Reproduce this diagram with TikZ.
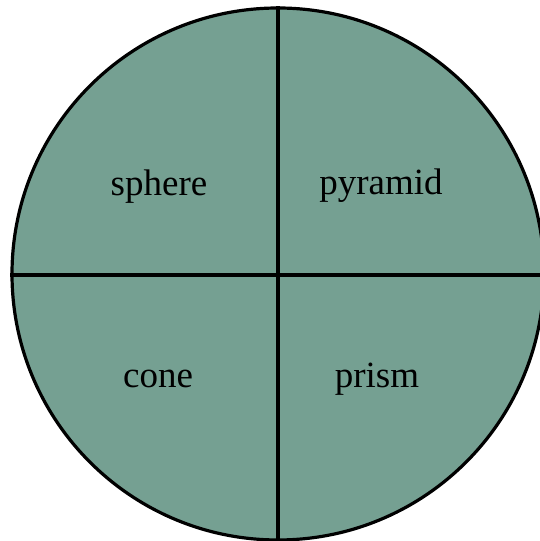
\documentclass[tikz,border=0pt]{standalone}
\usepackage{fontspec}
\setmainfont{Liberation Serif}
\definecolor{disc}{RGB}{117,160,146}
\begin{document}
\begin{tikzpicture}[x=1pt,y=1pt,
  lbl/.style={anchor=base,inner sep=0pt,font=\fontsize{37}{41}\selectfont},
  divider/.style={line width=3.2pt,black}]
\useasboundingbox (0,0) rectangle (540,541);
\clip (0,0) rectangle (540,541);
\node[circle,draw=black,line width=3.2pt,fill=disc,minimum size=532pt,inner sep=0pt] (c) at (278,267) {};
\draw[divider] (c.north) -- (c.south);
\draw[divider] ([yshift=-1pt]c.west) -- ([yshift=-1pt]c.east);
\node[lbl] (sphere) at (159,345) {sphere};
\node[lbl] (pyramid) at (381,346) {pyramid};
\node[lbl] (cone) at (158,153) {cone};
\node[lbl] (prism) at (377,153) {prism};
\end{tikzpicture}
\end{document}
